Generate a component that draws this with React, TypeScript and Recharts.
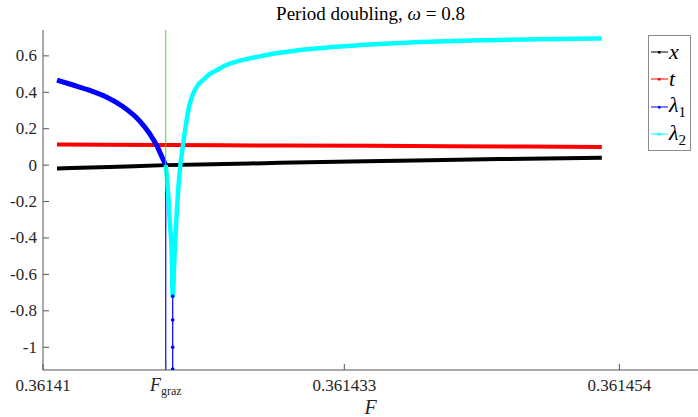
import { LineChart, Line, XAxis, YAxis, Legend } from "recharts";

const F_GRAZ = 0.36141937;

// x (black)
const xF = [0.36141107, 0.3614151, 0.36141937, 0.36142577, 0.36142805, 0.36143719, 0.36144481, 0.36145266];
const xV = [-0.018, -0.01, 0.0, 0.009, 0.013, 0.024, 0.033, 0.04];

// t (red)
const tF = [0.36141107, 0.36141937, 0.36142805, 0.361441, 0.36145266];
const tV = [0.113, 0.11, 0.108, 0.104, 0.1];

// lambda_1 (blue), smooth branch
const l1F = [0.36141107, 0.36141229, 0.36141358, 0.36141487, 0.36141609, 0.36141739, 0.36141815, 0.36141868, 0.36141906, 0.36141937];
const l1V = [0.467, 0.44, 0.41, 0.373, 0.322, 0.242, 0.172, 0.108, 0.048, 0.0];

// lambda_1 spikes (thin)
const spikeAF = [F_GRAZ, F_GRAZ];
const spikeAV = [0.0, -3];
const spikeBF = [0.3614199, 0.3614199, 0.3614199, 0.3614199, 0.3614199];
const spikeBV = [-3, -1.12, -1.0, -0.85, -0.72];

// lambda_2 (cyan)
const l2F = [
  0.36141937, 0.36141952, 0.36141967, 0.36141983, 0.3614199, 0.36142005, 0.36142018, 0.36142031,
  0.36142044, 0.36142069, 0.36142095, 0.3614212, 0.36142145, 0.36142183, 0.36142221, 0.36142272,
  0.36142323, 0.36142399, 0.36142475, 0.36142577, 0.36142653, 0.3614278, 0.36142935, 0.36143186,
  0.36143567, 0.36143948, 0.36144329, 0.36144786, 0.36145266,
];
const l2V = [
  0.0, -0.12, -0.3, -0.5, -0.72, -0.48, -0.3, -0.15,
  -0.03, 0.11, 0.24, 0.335, 0.39, 0.44, 0.467, 0.5,
  0.52, 0.55, 0.568, 0.586, 0.597, 0.614, 0.63, 0.647,
  0.665, 0.677, 0.686, 0.691, 0.695,
];

// grazing marker (green)
const grazF = [F_GRAZ, F_GRAZ];
const grazV = [0.742, -0.1];

const xTicks = [0.36141, F_GRAZ, 0.361433, 0.361454];
const yTicks = [-1, -0.8, -0.6, -0.4, -0.2, 0, 0.2, 0.4, 0.6];

const legendItems = [
  { name: "x", sub: "", color: "#000000" },
  { name: "t", sub: "", color: "#ff0000" },
  { name: "λ", sub: "1", color: "#0000ff" },
  { name: "λ", sub: "2", color: "#00ffff" },
];

const zip = (f: number[], v: number[]) => f.map((F, i) => ({ F, v: v[i] }));

const FONT = "'Liberation Serif', serif";
const AXIS = "#555555";
const TXT = "#262626";

const XTick = ({ x, y, payload }: any) => (
  <g>
    <line x1={x} y1={y} x2={x} y2={y - 6} stroke={AXIS} />
    {payload.value === F_GRAZ ? (
      <text x={x} y={y + 21} textAnchor="middle" fill={TXT} fontFamily={FONT} fontSize={18}>
        <tspan fontStyle="italic">F</tspan>
        <tspan fontSize={12} dy={4}>graz</tspan>
      </text>
    ) : (
      <text x={x} y={y + 21} textAnchor="middle" fill={TXT} fontFamily={FONT} fontSize={17}>
        {String(payload.value)}
      </text>
    )}
  </g>
);

const YTick = ({ x, y, payload }: any) => (
  <g>
    <line x1={x} y1={y} x2={x + 6} y2={y} stroke={AXIS} />
    <text x={x - 6} y={y + 5.5} textAnchor="end" fill={TXT} fontFamily={FONT} fontSize={17}>
      {String(payload.value)}
    </text>
  </g>
);

const LegendBox = () => (
  <div
    style={{
      border: "1px solid #8a8a8a",
      background: "#fff",
      padding: "2px 4px 2px 2px",
      fontFamily: FONT,
      fontSize: 22,
      fontStyle: "italic",
      color: "#000",
    }}
  >
    {legendItems.map((it) => (
      <div key={it.name + it.sub} style={{ display: "flex", alignItems: "center", height: 27.5 }}>
        <svg width={17} height={8} style={{ marginRight: 1 }}>
          <line x1={0} y1={4} x2={17} y2={4} stroke={it.color} strokeWidth={1} />
          <rect x={7} y={3} width={2.5} height={2.5} fill={it.color} />
        </svg>
        <span>
          {it.name}
          {it.sub && <sub style={{ fontStyle: "normal", fontSize: 15 }}>{it.sub}</sub>}
        </span>
      </div>
    ))}
  </div>
);

export default function App() {
  return (
    <div style={{ position: "absolute", left: 0, top: 0, width: 698, height: 417, background: "#fff" }}>
      <div
        style={{
          position: "absolute",
          left: 43,
          top: 3,
          width: 655,
          textAlign: "center",
          fontFamily: FONT,
          fontSize: 19,
          color: "#000",
        }}
      >
        Period doubling, <i>ω</i> = 0.8
      </div>
      <LineChart width={698} height={417} margin={{ top: 30, right: 0, left: 0, bottom: 0 }}>
        <XAxis
          type="number"
          dataKey="F"
          domain={[0.36141, 0.36146]}
          allowDataOverflow
          ticks={xTicks}
          interval={0}
          height={47}
          tickSize={0}
          tickMargin={0}
          tick={<XTick />}
          stroke={AXIS}
          label={{ value: "F", position: "insideBottom", offset: 3, style: { fontFamily: FONT, fontStyle: "italic", fontSize: 20, fill: TXT } }}
        />
        <YAxis
          type="number"
          domain={[-1.125, 0.742]}
          allowDataOverflow
          ticks={yTicks}
          interval={0}
          width={43}
          tickSize={0}
          tickMargin={0}
          tick={<YTick />}
          stroke={AXIS}
        />
        <Line data={zip(xF, xV)} dataKey="v" type="monotone" stroke="#000000" strokeWidth={4} dot={false} isAnimationActive={false} />
        <Line data={zip(tF, tV)} dataKey="v" type="monotone" stroke="#ff0000" strokeWidth={4} dot={false} isAnimationActive={false} />
        <Line data={zip(l1F, l1V)} dataKey="v" type="monotone" stroke="#0000ff" strokeWidth={5} dot={false} isAnimationActive={false} />
        <Line data={zip(spikeAF, spikeAV)} dataKey="v" type="linear" stroke="#0000ff" strokeWidth={1.2} dot={false} isAnimationActive={false} />
        <Line
          data={zip(spikeBF, spikeBV)}
          dataKey="v"
          type="linear"
          stroke="#0000ff"
          strokeWidth={1.2}
          dot={{ r: 1.4, fill: "#0000ff", stroke: "#0000ff", strokeWidth: 1 }}
          isAnimationActive={false}
        />
        <Line data={zip(l2F, l2V)} dataKey="v" type="monotone" stroke="#00ffff" strokeWidth={4.5} dot={false} isAnimationActive={false} />
        <Line data={zip(grazF, grazV)} dataKey="v" type="linear" stroke="#00ff00" strokeWidth={1} dot={false} isAnimationActive={false} />
        <Legend
          layout="vertical"
          align="center"
          verticalAlign="middle"
          content={<LegendBox />}
          wrapperStyle={{ left: 648, top: 35, width: "auto", height: "auto" }}
        />
      </LineChart>
    </div>
  );
}
